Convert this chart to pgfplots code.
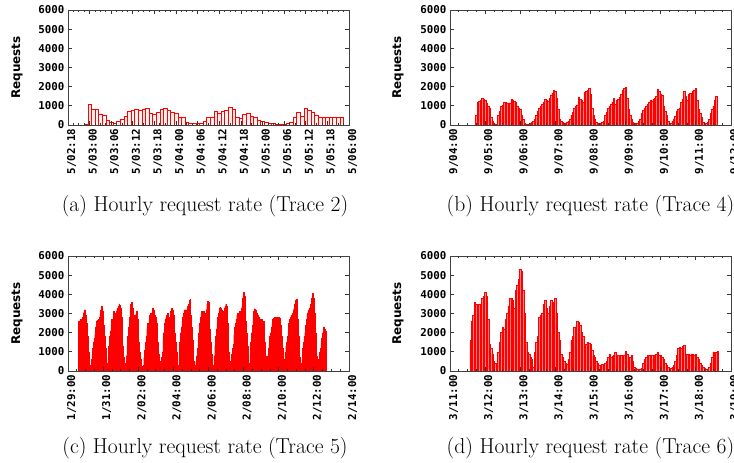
\documentclass[border=0pt]{standalone}
\usepackage{pgfplots}
\pgfplotsset{compat=1.18}
\usepackage{fontspec}
\newfontfamily\tickfont{DejaVu Sans Mono}
\newfontfamily\labfont{DejaVu Sans}
\newcommand\tf{\fontsize{10.8pt}{12pt}\selectfont\tickfont\bfseries}
\newcommand\lf{\fontsize{12pt}{14pt}\selectfont\labfont\bfseries}
\newcommand\cf{\fontsize{21.6pt}{24pt}\selectfont}
\pgfplotsset{
 panel/.style={
  scale only axis, width=281pt, height=115pt,
  ymin=0, ymax=6000, ytick={0,1000,...,6000},
  yticklabels={0,1000,2000,3000,4000,5000,6000},
  axis on top,
  axis line style={black!75, line width=0.8pt},
  every tick/.style={black!80, line width=0.8pt},
  major tick length=4pt, minor tick length=2pt,
  minor x tick num=3,
  tick align=inside,
  yticklabel style={font=\tf},
  xticklabel style={font=\tf, rotate=90, anchor=east, yshift=-3.5pt},
  ylabel={Requests},
  every axis y label/.style={at={(axis description cs:0,0.5)}, rotate=90, anchor=center, yshift=51pt, font=\lf},
  anchor=south west,
 }
}
\begin{document}
\begin{tikzpicture}
\path[use as bounding box] (0pt,0pt) rectangle (734pt,-463pt);
% (a)
\begin{axis}[panel, at={(68pt,-125pt)}, xmin=0, xmax=78, xtick={0,6,...,78},
 xticklabels={5/02:18,5/03:00,5/03:06,5/03:12,5/03:18,5/04:00,5/04:06,5/04:12,5/04:18,5/05:00,5/05:06,5/05:12,5/05:18,5/06:00}]
\addplot[ybar, bar width=1, bar shift=0pt, draw=red, fill=red!6, line width=0.6pt] coordinates {
(5,40) (6,1080) (7,830) (8,800) (9,560) (10,500) (11,250) (12,120) (13,100) (14,200) (15,300) (16,430) (17,700) (18,750) (19,800) (20,780) (21,800) (22,850) (23,620) (24,550) (25,680) (26,820) (27,850) (28,780) (29,680) (30,600) (31,400) (32,400) (33,150) (34,100) (35,80) (36,70) (37,70) (38,200) (39,400) (40,400) (41,700) (42,630) (43,700) (44,750) (45,900) (46,800) (47,400) (48,350) (49,550) (50,600) (51,450) (52,400) (53,250) (54,200) (55,150) (56,100) (57,80) (58,50) (59,30) (60,50) (61,80) (62,150) (63,400) (64,650) (65,450) (66,850) (67,750) (68,650) (69,500) (70,400) (71,400) (72,400) (73,400) (74,400) (75,400) (76,400)
};
\end{axis}
% (b)
\begin{axis}[panel, at={(450pt,-125pt)}, xmin=0, xmax=192, xtick={0,24,...,192},
 xticklabels={9/04:00,9/05:00,9/06:00,9/07:00,9/08:00,9/09:00,9/10:00,9/11:00,9/12:00},
 every axis y label/.append style={yshift=1pt}]
\addplot[ybar, bar width=1, bar shift=0pt, draw=red, fill=red!50, line width=0.4pt] coordinates {
(18,500) (19,1200) (20,1250) (21,1300) (22,1400) (23,1350) (24,1300) (25,1150) (26,1000) (27,900) (28,400) (29,200) (30,100) (31,60) (32,50) (33,500) (34,700) (35,1000) (36,1050) (37,1200) (38,1200) (39,1150) (40,1100) (41,1150) (42,1350) (43,1300) (44,1250) (45,1200) (46,1000) (47,900) (48,800) (49,500) (50,300) (51,100) (52,60) (53,50) (54,50) (55,80) (56,150) (57,200) (58,300) (59,500) (60,700) (61,900) (62,1000) (63,1100) (64,1200) (65,1350) (66,1300) (67,1250) (68,1400) (69,1550) (70,1650) (71,1800) (72,1750) (73,1400) (74,800) (75,300) (76,200) (77,150) (78,120) (79,100) (80,150) (81,200) (82,300) (83,500) (84,650) (85,900) (86,1000) (87,1050) (88,1450) (89,1350) (90,1300) (91,1200) (92,1700) (93,1750) (94,1800) (95,1900) (96,1600) (97,900) (98,500) (99,300) (100,150) (101,100) (102,80) (103,100) (104,150) (105,200) (106,500) (107,650) (108,900) (109,1000) (110,1100) (111,1200) (112,1400) (113,1100) (114,1300) (115,1350) (116,1450) (117,1600) (118,1800) (119,1900) (120,1980) (121,1400) (122,800) (123,500) (124,300) (125,150) (126,100) (127,80) (128,100) (129,200) (130,300) (131,600) (132,750) (133,900) (134,1000) (135,1100) (136,1200) (137,1300) (138,1250) (139,1350) (140,1400) (141,1500) (142,1870) (143,1750) (144,1600) (145,1550) (146,1000) (147,700) (148,500) (149,200) (150,120) (151,100) (152,200) (153,300) (154,450) (155,700) (156,800) (157,900) (158,1200) (159,1350) (160,1750) (161,1500) (162,1300) (163,1600) (164,1650) (165,1650) (166,1750) (167,1800) (168,1920) (169,1300) (170,800) (171,600) (172,400) (173,150) (174,100) (175,80) (176,150) (177,300) (178,600) (179,800) (180,1000) (181,1300) (182,1500)
};
\end{axis}
% (c)
\begin{axis}[panel, at={(68pt,-371pt)}, xmin=0, xmax=384, xtick={0,48,...,384},
 xticklabels={1/29:00,1/31:00,2/02:00,2/04:00,2/06:00,2/08:00,2/10:00,2/12:00,2/14:00}]
\addplot[ybar, bar width=1, bar shift=0pt, draw=red, fill=red, line width=0.3pt] coordinates {
(15,2600) (16,2500) (17,2700) (18,2600) (19,2400) (20,2800) (21,3000) (22,3100) (23,3200) (24,2900) (25,2500) (26,2400) (27,1800) (28,1000) (29,500) (30,200) (31,300)
(32,600) (33,900) (34,1200) (35,1500) (36,1700) (37,1900) (38,2300) (39,2600) (40,2650) (41,2600) (42,2700) (43,2800) (44,3000) (45,3200) (46,3400) (47,3100) (48,2900) (49,2400) (50,1800) (51,1200) (52,700) (53,400) (54,200)
(55,700) (56,1300) (57,1800) (58,2100) (59,2400) (60,2700) (61,2700) (62,3100) (63,3000) (64,2800) (65,3000) (66,3100) (67,3200) (68,3300) (69,3400) (70,3500) (71,3450) (72,3300) (73,2800) (74,2000) (75,1300) (76,700) (77,400) (78,200) (79,300)
(80,800) (81,1300) (82,1800) (83,2300) (84,2800) (85,3200) (86,3500) (87,3600) (88,3300) (89,3000) (90,2800) (91,2900) (92,2800) (93,3000) (94,3100) (95,2700) (96,2000) (97,1500) (98,1000) (99,600) (100,400) (101,250) (102,150) (103,300)
(104,700) (105,1100) (106,1500) (107,1800) (108,2200) (109,2500) (110,2400) (111,2700) (112,2900) (113,3000) (114,2800) (115,3100) (116,3300) (117,3200) (118,2900) (119,2800) (120,2800) (121,2500) (122,2000) (123,1500) (124,900) (125,500) (126,150) (127,300)
(128,700) (129,1000) (130,1600) (131,2000) (132,2500) (133,2700) (134,2800) (135,2900) (136,3000) (137,2900) (138,2400) (139,2800) (140,3100) (141,3200) (142,3300) (143,3200) (144,2900) (145,2500) (146,2000) (147,1500) (148,1000) (149,600) (150,300) (151,150)
(152,800) (153,1500) (154,2000) (155,2300) (156,2600) (157,2800) (158,3000) (159,3200) (160,3100) (161,3200) (162,3100) (163,3300) (164,3400) (165,3500) (166,3700) (167,3750) (168,2900) (169,2300) (170,1600) (171,1000) (172,500) (173,300) (174,150)
(175,500) (176,800) (177,1200) (178,1600) (179,2000) (180,2500) (181,2800) (182,3000) (183,3100) (184,3100) (185,3100) (186,2900) (187,2800) (188,3000) (189,3200) (190,3500) (191,3650) (192,3600) (193,2900) (194,2200) (195,1500) (196,900) (197,500) (198,300) (199,150)
(200,800) (201,1300) (202,1800) (203,2200) (204,2500) (205,2800) (206,3000) (207,3300) (208,3350) (209,3300) (210,3200) (211,3100) (212,3000) (213,3100) (214,3300) (215,3400) (216,3500) (217,3400) (218,2500) (219,1800) (220,1000) (221,500) (222,200)
(223,500) (224,900) (225,1200) (226,1400) (227,1900) (228,2300) (229,2500) (230,2700) (231,2900) (232,3000) (233,2900) (234,3000) (235,3100) (236,3100) (237,3300) (238,3500) (239,3800) (240,4100) (241,3900) (242,3000) (243,2600) (244,2000) (245,1300) (246,800) (247,400) (248,200)
(249,900) (250,1500) (251,2000) (252,2400) (253,2800) (254,3100) (255,3250) (256,3200) (257,3100) (258,3000) (259,2900) (260,2800) (261,2800) (262,2700) (263,2700) (264,2700) (265,2700) (266,2600) (267,2600) (268,2000) (269,1500) (270,800) (271,400) (272,200)
(273,800) (274,1200) (275,1500) (276,1800) (277,2000) (278,2300) (279,2500) (280,2700) (281,2750) (282,2800) (283,2700) (284,2800) (285,2750) (286,2800) (287,2700) (288,2800) (289,2750) (290,2700) (291,2400) (292,1800) (293,1200) (294,600) (295,200)
(296,600) (297,1000) (298,1300) (299,1500) (300,1800) (301,2100) (302,2500) (303,2700) (304,2800) (305,2900) (306,2800) (307,3000) (308,3200) (309,3300) (310,3500) (311,3700) (312,3750) (313,3300) (314,2700) (315,1800) (316,1200) (317,700) (318,400) (319,200)
(320,700) (321,1200) (322,1500) (323,1800) (324,2000) (325,2400) (326,2700) (327,3000) (328,3100) (329,3200) (330,3300) (331,3250) (332,3500) (333,3800) (334,4050) (335,4000) (336,3800) (337,3000) (338,2000) (339,1400) (340,800) (341,400) (342,200)
(343,600) (344,1000) (345,1200) (346,1500) (347,1700) (348,2000) (349,2300) (350,2300) (351,2200) (352,2100)
};
\end{axis}
% (d)
\begin{axis}[panel, at={(450pt,-371pt)}, xmin=0, xmax=192, xtick={0,24,...,192},
 xticklabels={3/11:00,3/12:00,3/13:00,3/14:00,3/15:00,3/16:00,3/17:00,3/18:00,3/19:00},
 every axis y label/.append style={yshift=1pt}]
\addplot[ybar, bar width=1, bar shift=0pt, draw=red, fill=red!50, line width=0.4pt] coordinates {
(14,1600) (15,2600) (16,2900) (17,3600) (18,3500) (19,3300) (20,3500) (21,3400) (22,3800) (23,3900) (24,4100) (25,3900) (26,2700) (27,1400) (28,1200) (29,900) (30,500) (31,400) (32,300) (33,1000) (34,1500) (35,2000) (36,2300) (37,2200) (38,2700) (39,3000) (40,3400) (41,3800) (42,3800) (43,3700) (44,3300) (45,4200) (46,4500) (47,4800) (48,5300) (49,5200) (50,4200) (51,3000) (52,1500) (53,1000) (54,900) (55,700) (56,600) (57,200) (58,1000) (59,1500) (60,1800) (61,2800) (62,2900) (63,3000) (64,3500) (65,3700) (66,3300) (67,3000) (68,3400) (69,3700) (70,3600) (71,3500) (72,3800) (73,3000) (74,2000) (75,1600) (76,900) (77,700) (78,500) (79,400) (80,350) (81,600) (82,1000) (83,1600) (84,1800) (85,2300) (86,2300) (87,2600) (88,2550) (89,2400) (90,2000) (91,1800) (92,1300) (93,1400) (94,1500) (95,1450) (96,1400) (97,1100) (98,800) (99,700) (100,500) (101,400) (102,300) (103,300) (104,350) (105,350) (106,400) (107,500) (108,700) (109,900) (110,700) (111,750) (112,800) (113,1000) (114,800) (115,800) (116,750) (117,800) (118,700) (119,800) (120,1050) (121,900) (122,600) (123,700) (124,800) (125,500) (126,200) (127,150) (128,120) (129,100) (130,100) (131,150) (132,400) (133,600) (134,700) (135,800) (136,800) (137,750) (138,800) (139,650) (140,800) (141,900) (142,1000) (143,800) (144,800) (145,700) (146,600) (147,400) (148,300) (149,200) (150,100) (151,150) (152,200) (153,300) (154,500) (155,800) (156,1200) (157,1250) (158,1200) (159,1300) (160,1350) (161,900) (162,900) (163,900) (164,850) (165,900) (166,900) (167,850) (168,900) (169,700) (170,600) (171,400) (172,300) (173,200) (174,150) (175,100) (176,100) (177,200) (178,400) (179,700) (180,1000) (181,800) (182,1000) (183,1050)
};
\end{axis}
\node[font=\cf, anchor=base] at (205pt,-211pt) {(a) Hourly request rate (Trace 2)};
\node[font=\cf, anchor=base] at (590.5pt,-211pt) {(b) Hourly request rate (Trace 4)};
\node[font=\cf, anchor=base] at (205pt,-453pt) {(c) Hourly request rate (Trace 5)};
\node[font=\cf, anchor=base] at (590.5pt,-453pt) {(d) Hourly request rate (Trace 6)};
\end{tikzpicture}
\end{document}
